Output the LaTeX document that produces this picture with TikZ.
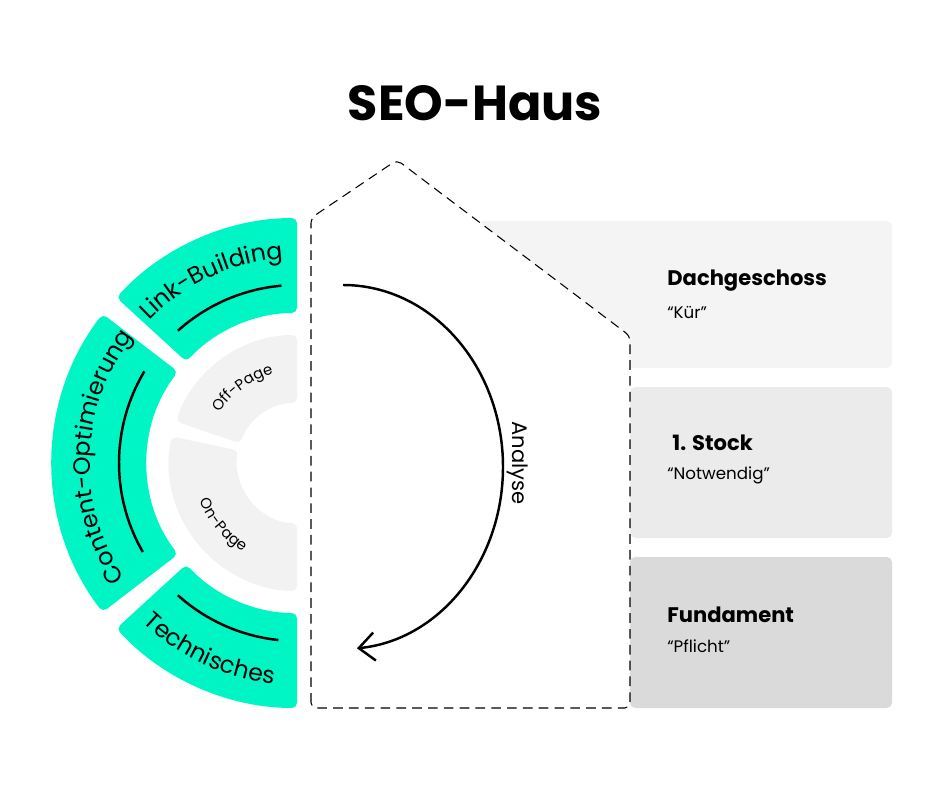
\documentclass[tikz,border=0pt]{standalone}
\usepackage{fontspec}
\setmainfont{Poppins}
\usetikzlibrary{arrows.meta,decorations.text}
\definecolor{seogreen}{HTML}{00F5C4}
\definecolor{roofgray}{HTML}{F4F4F4}
\definecolor{floorgray}{HTML}{EBEBEB}
\definecolor{basegray}{HTML}{DADADA}
\definecolor{pagegray}{HTML}{F2F2F2}
% ring segment: colour, start angle, end angle, inner r, outer r
\newcommand{\ringseg}[5]{%
  \fill[#1, rounded corners=3pt] ([shift={(297,-463)}]#2:#5) arc[start angle=#2, end angle=#3, radius=#5]
      -- ([shift={(297,-463)}]#3:#4) arc[start angle=#3, end angle=#2, radius=#4] -- cycle;}
\tikzset{
  ringlabel/.style={decorate, decoration={text along path, text align=center, text={#1}}},
  floortitle/.style={anchor=west, inner sep=0pt, font=\fontsize{12}{14}\selectfont\bfseries},
  floornote/.style={anchor=west, inner sep=0pt, font=\fontsize{9.5}{12}\selectfont},
}
\begin{document}
\begin{tikzpicture}[x=0.02cm, y=0.02cm]
    \useasboundingbox (0,0) rectangle (950,-801);

    \node (title) at (475,-103) {\fontsize{28}{32}\selectfont\bfseries SEO-Haus};

    % floors
    \fill[roofgray, rounded corners=3pt] (478,-221) rectangle (892,-368);
    \fill[floorgray, rounded corners=3pt] (630,-387) rectangle (892,-538);
    \fill[basegray, rounded corners=3pt] (630,-557) rectangle (892,-708);

    % house
    \draw[fill=white, dash pattern=on 5.5pt off 3.5pt, line width=0.6pt, rounded corners=3pt]
        (311,-708) -- (311,-218) -- (397,-160) -- (630,-336) -- (630,-708) -- cycle;

    \node[floortitle] (dach) at (667,-281) {Dachgeschoss};
    \node[floornote] (dachnote) at (667,-312) {“Kür”};
    \node[floortitle] (stock) at (672,-443) {1. Stock};
    \node[floornote] (stocknote) at (667,-475) {“Notwendig”};
    \node[floortitle] (fund) at (667,-615) {Fundament};
    \node[floornote] (fundnote) at (667,-646) {“Pflicht”};

    % outer ring
    \ringseg{seogreen}{90}{137.5}{150}{245}
    \ringseg{seogreen}{142.5}{217.5}{150}{245}
    \ringseg{seogreen}{222.5}{270}{150}{245}
    % inner ring
    \ringseg{pagegray}{90}{161}{60}{128}
    \ringseg{pagegray}{168}{270}{60}{128}

    \foreach \a/\b in {132/95, 149/210, 228/264}{
        \draw[line width=1.4pt] ([shift={(297,-463)}]\a:178) arc[start angle=\a, end angle=\b, radius=178];
    }

    \path[ringlabel={|\fontsize{13.5}{15}\selectfont|Link-Building}] ([shift={(297,-463)}]137:205) arc[start angle=137, end angle=93, radius=205];
    \path[ringlabel={|\fontsize{13.5}{15}\selectfont|Content-Optimierung}] ([shift={(297,-463)}]216:207) arc[start angle=216, end angle=140, radius=207];
    \path[ringlabel={|\fontsize{13.5}{15}\selectfont|Technisches}] ([shift={(297,-463)}]222:222) arc[start angle=222, end angle=268, radius=222];
    \path[ringlabel={|\fontsize{8.5}{10}\selectfont|Off-Page}] ([shift={(297,-463)}]152:92) arc[start angle=152, end angle=100, radius=92];
    \path[ringlabel={|\fontsize{8.5}{10}\selectfont|On-Page}] ([shift={(297,-463)}]190:104) arc[start angle=190, end angle=250, radius=104];

    % analyse arrow
    \coordinate (loopstart) at (343,-285);
    \draw[line width=1.4pt, -{Straight Barb[length=9pt, width=16pt, line width=1.4pt]}]
        (loopstart) arc[start angle=90, end angle=-85, x radius=160, y radius=182];
    \node[anchor=south, rotate=-90, inner sep=2pt, font=\fontsize{12}{14}\selectfont] (analyse) at (503,-463) {Analyse};

\end{tikzpicture}
\end{document}
